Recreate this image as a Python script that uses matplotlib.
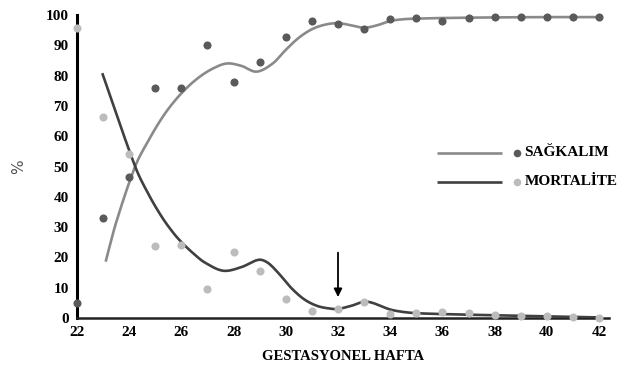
import matplotlib
matplotlib.use('Agg')
import matplotlib.pyplot as plt
import numpy as np

plt.rcParams['font.family'] = ['Liberation Serif', 'DejaVu Serif']

# === data ===
weeks = list(range(22, 43))
survival_pts = [5, 33, 46.5, 76, 76, 90, 78, 84.5, 92.7, 98, 97, 95.3, 98.7,
                99, 98, 99, 99.3, 99.3, 99.3, 99.3, 99.3]
mortality_pts = [95.7, 66.3, 54, 23.8, 24, 9.5, 21.8, 15.5, 6.3, 2.3, 3, 5.3,
                 1.3, 1.6, 2, 1.5, 1, 0.5, 0.5, 0.4, 0]

# fitted curves as drawn in the figure (knots)
surv_curve_x = [23.1, 23.5, 24.22, 24.7, 25.24, 25.7, 26.2, 26.7, 27.2, 27.74, 28.3, 28.88,
                29.5, 30, 30.5, 31, 31.5, 32, 32.5, 33, 33.5, 34, 34.5, 35, 36,
                38, 40, 42]
surv_curve_y = [18.6, 31.5, 49.8, 58, 65.8, 71.2, 75.9, 79.6, 82.3, 84, 83.2, 81.3,
                84, 88.5, 92.5, 95.3, 96.8, 97.3, 96.6, 95.8, 96.6, 98, 98.6, 98.8, 99,
                99.2, 99.3, 99.3]
mort_curve_x = [22.97, 24.22, 24.7, 25.24, 25.7, 26.03, 26.5, 26.9, 27.6, 28.3,
                28.95, 29.3, 29.7, 30.2, 30.7, 31.2, 31.7, 32, 32.5, 33.1, 34, 34.5,
                35, 36, 38, 40, 42]
mort_curve_y = [80.8, 50.2, 41.5, 33.5, 28, 24.8, 21, 18.3, 15.6, 16.8,
                19.2, 18.3, 15, 10, 6.2, 4, 3.1, 3, 4, 5.4, 2.8, 2,
                1.6, 1.3, 0.9, 0.5, 0.2]

arrow_week = 32
arrow_from, arrow_to = 22.5, 6

legend_labels = ['SAĞKALIM', 'MORTALİTE']


def smooth(xs, ys, n=20):
    # cubic Hermite through the read knots (Catmull-Rom style tangents)
    x = np.asarray(xs, float)
    y = np.asarray(ys, float)
    m = np.empty_like(y)
    m[1:-1] = (y[2:] - y[:-2]) / (x[2:] - x[:-2])
    m[0] = (y[1] - y[0]) / (x[1] - x[0])
    m[-1] = (y[-1] - y[-2]) / (x[-1] - x[-2])
    ox, oy = [], []
    for i in range(len(x) - 1):
        h = x[i + 1] - x[i]
        t = np.linspace(0, 1, n, endpoint=False)
        h00 = 2 * t**3 - 3 * t**2 + 1
        h10 = t**3 - 2 * t**2 + t
        h01 = -2 * t**3 + 3 * t**2
        h11 = t**3 - t**2
        ox.append(x[i] + t * h)
        oy.append(h00 * y[i] + h10 * h * m[i] + h01 * y[i + 1] + h11 * h * m[i + 1])
    ox.append([x[-1]])
    oy.append([y[-1]])
    return np.concatenate(ox), np.concatenate(oy)


fig = plt.figure(figsize=(6.36, 3.70), dpi=100)
ax = fig.add_axes([0.121, 0.1405, 0.8365, 0.819])

c_surv_line, c_surv_dot = '#8a8a8a', '#5a5a5a'
c_mort_line, c_mort_dot = '#404040', '#bcbcbc'

sx, sy = smooth(surv_curve_x, surv_curve_y)
mx, my = smooth(mort_curve_x, mort_curve_y)
ax.plot(sx, sy, color=c_surv_line, lw=1.9, zorder=3, solid_capstyle='butt')
ax.plot(mx, my, color=c_mort_line, lw=1.9, zorder=3, solid_capstyle='butt')
ax.scatter(weeks, survival_pts, s=34, color=c_surv_dot, zorder=4, clip_on=False, lw=0)
ax.scatter(weeks, mortality_pts, s=34, color=c_mort_dot, zorder=4, clip_on=False, lw=0)

ax.annotate('', xy=(arrow_week, arrow_to), xytext=(arrow_week, arrow_from),
            arrowprops=dict(arrowstyle='-|>', lw=1.3, color='black', mutation_scale=12))

# legend drawn by hand, as in the source
leg_y = [54.5, 45]
for lab, yy, lc, dc in zip(legend_labels, leg_y, [c_surv_line, c_mort_line],
                           [c_surv_dot, c_mort_dot]):
    ax.plot([35.8, 38.3], [yy, yy], color=lc, lw=1.9, solid_capstyle='butt')
    ax.scatter([38.86], [yy], s=30, color=dc, lw=0)
    ax.text(39.15, yy, lab, fontsize=11, fontweight='bold', va='center')

ax.set_xlim(22, 42.38)
ax.set_ylim(0, 100)
ax.set_xticks(range(22, 43, 2))
ax.set_yticks(range(0, 101, 10))
ax.tick_params(length=0, labelsize=11, pad=6)
for lab in ax.get_xticklabels() + ax.get_yticklabels():
    lab.set_fontweight('bold')
ax.spines['top'].set_visible(False)
ax.spines['right'].set_visible(False)
ax.spines['left'].set_linewidth(2.2)
ax.spines['bottom'].set_linewidth(1.8)
ax.spines['bottom'].set_color('#222222')

ax.set_xlabel('GESTASYONEL HAFTA', fontsize=10.5, fontweight='bold', labelpad=8)
fig.text(0.03, 0.55, '%', fontsize=11, rotation=90, color='#555555',
         family='DejaVu Sans', ha='center', va='center')

fig.savefig('out.png', dpi=100)
plt.close()
